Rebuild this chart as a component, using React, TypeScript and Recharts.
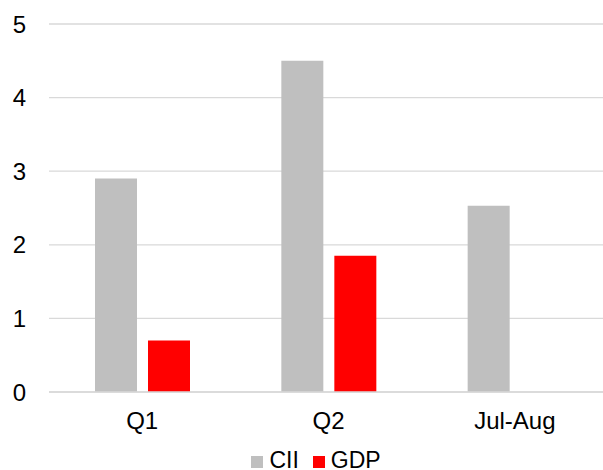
import { BarChart, Bar, XAxis, YAxis, CartesianGrid, Legend } from 'recharts';

const periods = ['Q1', 'Q2', 'Jul-Aug'];
const cii = [2.9, 4.5, 2.53];
const gdp = [0.7, 1.85, null];
const yTicks = [0, 1, 2, 3, 4, 5];

const data = periods.map((p, i) => ({ name: p, CII: cii[i], GDP: gdp[i] }));

const font = { fontFamily: '"Liberation Sans", Arial, sans-serif', fontSize: 24, fill: '#000' };

export default function App() {
  return (
    <div style={{ position: 'absolute', left: 0, top: 0, width: 603, height: 470, overflow: 'hidden', background: '#fff' }}>
      <BarChart
        width={610}
        height={470}
        data={data}
        margin={{ top: 24, right: 2, left: 0, bottom: 0 }}
        barSize={42}
        barGap={11}
      >
        <CartesianGrid vertical={false} stroke="#d9d9d9" strokeWidth={1.3} />
        <XAxis
          dataKey="name"
          height={50}
          axisLine={{ stroke: '#d9d9d9', strokeWidth: 1.3 }}
          tickLine={false}
          tickMargin={14}
          tick={font}
        />
        <YAxis
          width={49}
          domain={[0, 5]}
          ticks={yTicks}
          axisLine={false}
          tickLine={false}
          tickMargin={17}
          tick={font}
        />
        <Legend
          verticalAlign="bottom"
          height={28}
          iconType="square"
          iconSize={12}
          wrapperStyle={{ fontFamily: '"Liberation Sans", Arial, sans-serif', fontSize: 23, bottom: -4, left: 19, lineHeight: '28px' }}
          formatter={(v) => <span style={{ color: '#000', marginLeft: 2, marginRight: 4 }}>{v}</span>}
        />
        <Bar dataKey="CII" fill="#bfbfbf" isAnimationActive={false} />
        <Bar dataKey="GDP" fill="#ff0000" isAnimationActive={false} />
      </BarChart>
    </div>
  );
}
